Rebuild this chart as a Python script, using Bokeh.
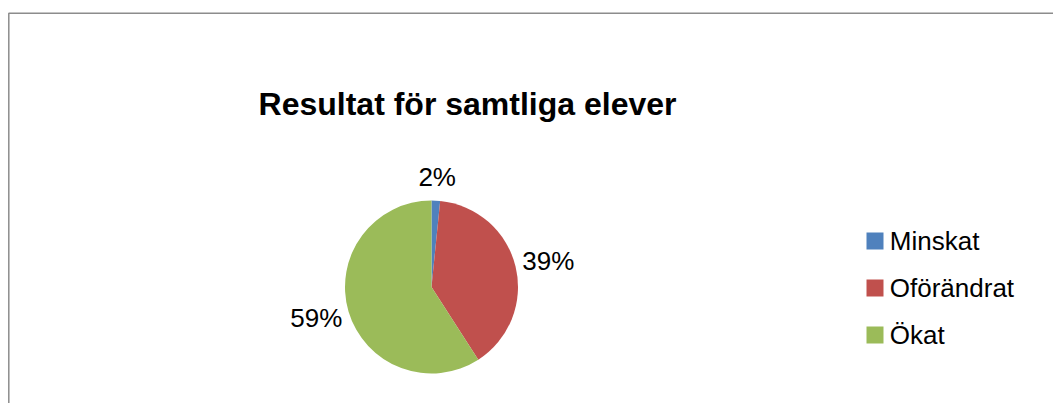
import math
from bokeh.plotting import figure
from bokeh.models import Range1d, ColumnDataSource
from bokeh.core.properties import value
from bokeh.embed import file_html
from bokeh.resources import INLINE

# ---- data ----
categories = ["Minskat", "Oförändrat", "Ökat"]
shares = [1.6, 39.3, 59.1]          # percent
colors = ["#4F81BD", "#C0504D", "#9BBB59"]
title_text = "Resultat för samtliga elever"

# ---- layout (pixel-like data space) ----
W, H = 1053, 403
FONT = "Liberation Sans"

p = figure(width=W, height=H, x_range=Range1d(0, W), y_range=Range1d(0, H),
           output_backend="svg", toolbar_location=None, min_border=0,
           x_axis_location=None, y_axis_location=None)
p.grid.visible = False
p.outline_line_color = None
p.background_fill_color = "white"
p.border_fill_color = "white"

# chart area frame (top & left edges visible)
p.line(x=[8.3, 8.3, W], y=[0, 390.3, 390.3], line_color="#8c8c8c", line_width=1.5)

# title
p.text(x=[467], y=[299.7], text=[title_text], text_font=value(FONT),
       text_font_style="bold", text_font_size="32px", text_align="center",
       text_baseline="alphabetic", text_color="black")

# pie
cx, cy, r = 431, 116.5, 86.5
total = sum(shares)
starts, ends, mids = [], [], []
cum = 0.0
for s in shares:
    a0 = cum / total
    cum += s
    a1 = cum / total
    starts.append(math.pi / 2 - 2 * math.pi * a1)
    ends.append(math.pi / 2 - 2 * math.pi * a0)
    mids.append(2 * math.pi * (a0 + a1) / 2)   # clockwise from top

src = ColumnDataSource(dict(start=starts, end=ends, color=colors, cat=categories))
p.wedge(x=cx, y=cy, radius=r, start_angle="start", end_angle="end",
        fill_color="color", line_color=None, source=src)

# data labels (outside end)
label_size = 26
cw = {"%": 0.889}
labels = [f"{round(s / total * 100)}%" for s in shares]
gap, box_h = 7.6, 33
lx, ly = [], []
for lab, m in zip(labels, mids):
    ux, uy = math.sin(m), math.cos(m)   # uy upward
    w = sum(cw.get(ch, 0.556) for ch in lab) * label_size
    lx.append(cx + ux * (r + gap) + ux * w / 2)
    ly.append(cy + uy * (r + gap) + uy * box_h / 2)
p.text(x=lx, y=ly, text=labels, text_font=value(FONT), text_font_size=f"{label_size}px",
       text_align="center", text_baseline="middle", text_color="black")

# legend
leg_y = [162.5, 115.5, 68.5]
p.rect(x=[874.5] * 3, y=leg_y, width=17, height=17, fill_color=colors, line_color=None)
p.text(x=[889.3] * 3, y=leg_y, text=categories, text_font=value(FONT),
       text_font_size="26px", text_align="left", text_baseline="middle", text_color="black")

open("out.html", "w").write(file_html(p, INLINE))
